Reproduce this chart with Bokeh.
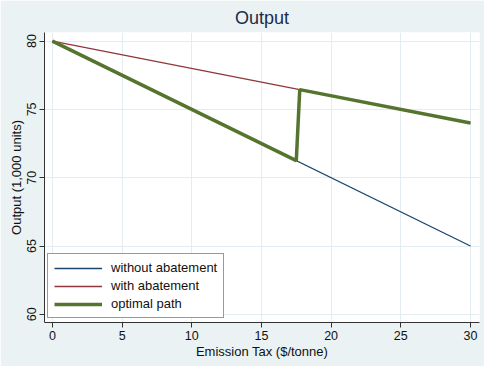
from bokeh.plotting import figure
from bokeh.models import Range1d, FixedTicker, Legend, LegendItem
from bokeh.embed import file_html
from bokeh.resources import INLINE

tax = [0, 30]
without_abatement = [80, 65]
with_abatement = [80, 74]
optimal_x = [0, 17.5, 17.75, 30]
optimal_y = [80, 71.25, 76.45, 74]
x_ticks = [0, 5, 10, 15, 20, 25, 30]
y_ticks = [60, 65, 70, 75, 80]

BG = "#EAF2F3"
FONT = "Liberation Sans"

p = figure(width=484, height=366, output_backend="svg", toolbar_location=None,
           x_range=Range1d(-0.57, 30.65), y_range=Range1d(59.4, 80.63),
           min_border_left=44, min_border_right=5, min_border_top=30, min_border_bottom=44)
p.background_fill_color = "white"
p.border_fill_color = BG
p.outline_line_color = None

p.title.text = "Output"
p.title.align = "center"
p.title.text_font = FONT
p.title.text_font_size = "18px"
p.title.text_font_style = "normal"
p.title.text_color = "#1c2b4a"

for ax in (p.xaxis[0], p.yaxis[0]):
    ax.axis_line_color = "#333333"
    ax.major_tick_line_color = "#333333"
    ax.minor_tick_line_color = None
    ax.major_tick_out = 5
    ax.major_tick_in = 0
    ax.major_label_text_font = FONT
    ax.major_label_text_font_size = "12.5px"
    ax.major_label_text_color = "#111111"
    ax.axis_label_text_font = FONT
    ax.axis_label_text_font_size = "13px"
    ax.axis_label_text_font_style = "normal"
    ax.axis_label_text_color = "#111111"
    ax.axis_label_standoff = 1
    ax.major_label_standoff = 3

p.xaxis[0].ticker = FixedTicker(ticks=x_ticks)
p.yaxis[0].ticker = FixedTicker(ticks=y_ticks)
p.yaxis[0].major_label_orientation = "vertical"
p.xaxis[0].axis_label = "Emission Tax ($/tonne)"
p.yaxis[0].axis_label = "Output (1,000 units)"

p.xgrid.ticker = FixedTicker(ticks=x_ticks)
p.ygrid.ticker = FixedTicker(ticks=y_ticks)
p.grid.grid_line_color = "#E3EDF1"
p.grid.grid_line_width = 1

r1 = p.line(tax, without_abatement, line_color="#1a476f", line_width=1.3)
r2 = p.line(tax, with_abatement, line_color="#90353b", line_width=1.3)
r3 = p.line(optimal_x, optimal_y, line_color="#55752f", line_width=3.5)

legend = Legend(items=[LegendItem(label="without abatement", renderers=[r1]),
                       LegendItem(label="with abatement", renderers=[r2]),
                       LegendItem(label="optimal path", renderers=[r3])],
                location=(3, 4))
legend.label_text_font = FONT
legend.label_text_font_size = "13px"
legend.label_text_color = "#111111"
legend.border_line_color = "#333333"
legend.border_line_width = 1
legend.background_fill_alpha = 1
legend.glyph_width = 48
legend.glyph_height = 14
legend.label_height = 14
legend.spacing = 3
legend.padding = 6
legend.margin = 0
legend.label_standoff = 9
p.add_layout(legend, "center")

open("out.html", "w").write(file_html(p, INLINE))
